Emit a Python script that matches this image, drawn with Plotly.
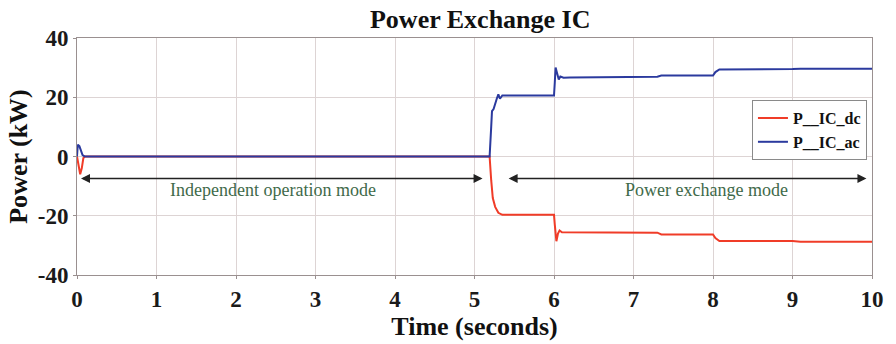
import plotly.graph_objects as go

# Time (s) and power (kW) samples
t_dc = [0.0, 0.02, 0.04, 0.06, 0.08, 0.1, 5.19, 5.21, 5.23, 5.26, 5.30, 5.35, 6.0, 6.01, 6.03, 6.05, 6.07, 6.1, 6.2, 7.3, 7.35, 8.0, 8.03, 8.08, 9.0, 9.1, 10.0]
p_dc = [0.0, -3.0, -6.0, -4.0, -0.5, 0.0, 0.0, -8.0, -14.0, -17.0, -19.0, -19.7, -19.7, -23.0, -28.6, -26.0, -25.0, -25.6, -25.6, -25.7, -26.3, -26.3, -27.5, -28.5, -28.5, -28.8, -28.8]

t_ac = [0.0, 0.01, 0.03, 0.05, 0.07, 0.1, 5.19, 5.21, 5.22, 5.24, 5.26, 5.28, 5.30, 5.32, 5.35, 6.0, 6.01, 6.02, 6.04, 6.06, 6.08, 6.12, 6.2, 7.3, 7.35, 8.0, 8.03, 8.08, 9.0, 9.1, 10.0]
p_ac = [0.0, 4.0, 3.5, 2.0, 0.5, 0.0, 0.0, 10.0, 15.3, 16.0, 18.0, 19.5, 21.0, 19.5, 20.6, 20.6, 25.0, 30.0, 28.0, 26.0, 27.0, 26.6, 26.7, 26.9, 27.3, 27.3, 28.5, 29.4, 29.5, 29.6, 29.6]

x_ticks = list(range(0, 11))
y_ticks = [-40, -20, 0, 20, 40]

FONT = "Liberation Serif"

fig = go.Figure()
fig.add_trace(go.Scatter(x=t_dc, y=p_dc, mode="lines", name="<b>P__IC_dc</b>",
                         line=dict(color="#f03c28", width=2)))
fig.add_trace(go.Scatter(x=t_ac, y=p_ac, mode="lines", name="<b>P__IC_ac</b>",
                         line=dict(color="#2b3a9e", width=2)))

# Double-headed mode arrows
fig.add_annotation(x=0.05, y=-7.4, ax=5.12, ay=-7.4, xref="x", yref="y", axref="x", ayref="y",
                   text="", showarrow=True, arrowhead=2, arrowside="end+start",
                   arrowsize=1.2, arrowwidth=1.5, arrowcolor="#222222")
fig.add_annotation(x=9.93, y=-7.4, ax=5.41, ay=-7.4, xref="x", yref="y", axref="x", ayref="y",
                   text="", showarrow=True, arrowhead=2, arrowside="end+start",
                   arrowsize=1.2, arrowwidth=1.5, arrowcolor="#222222")
fig.add_annotation(x=2.47, y=-11.3, xref="x", yref="y", text="Independent operation mode",
                   showarrow=False, font=dict(family=FONT, size=18, color="#3f6a4a"))
fig.add_annotation(x=7.92, y=-11.3, xref="x", yref="y", text="Power exchange mode",
                   showarrow=False, font=dict(family=FONT, size=18, color="#3f6a4a"))

axis_common = dict(showgrid=True, gridcolor="#ddd4d4", gridwidth=1, showline=True,
                   linecolor="#9a9090", linewidth=1, mirror=True, zeroline=False,
                   ticks="outside", ticklen=3, tickcolor="#9a9090",
                   tickfont=dict(family=FONT, size=23, color="#1a1a1a"))

fig.update_layout(
    width=896, height=344,
    margin=dict(l=77, r=16, t=38, b=69),
    paper_bgcolor="white", plot_bgcolor="white",
    title=dict(text="<b>Power Exchange IC</b>", x=0.536, xanchor="center", y=0.945, yanchor="middle",
               font=dict(family=FONT, size=26, color="#111111")),
    xaxis=dict(range=[0, 10], tickvals=x_ticks, ticktext=[f"<b>{v}</b>" for v in x_ticks],
               title=dict(text="<b>Time (seconds)</b>", font=dict(family=FONT, size=26, color="#111111"), standoff=0),
               **axis_common),
    yaxis=dict(range=[-40, 40], tickvals=y_ticks, ticktext=[f"<b>{v}</b>" for v in y_ticks],
               title=dict(text="<b>Power (kW)</b>", font=dict(family=FONT, size=26, color="#111111"), standoff=2),
               **axis_common),
    legend=dict(x=0.849, y=0.738, xanchor="left", yanchor="top",
                bgcolor="white", bordercolor="#8a8a8a", borderwidth=1,
                font=dict(family=FONT, size=16, color="#111111"),
                tracegroupgap=0, itemwidth=30),
    showlegend=True,
)

fig.write_html("out.html")
